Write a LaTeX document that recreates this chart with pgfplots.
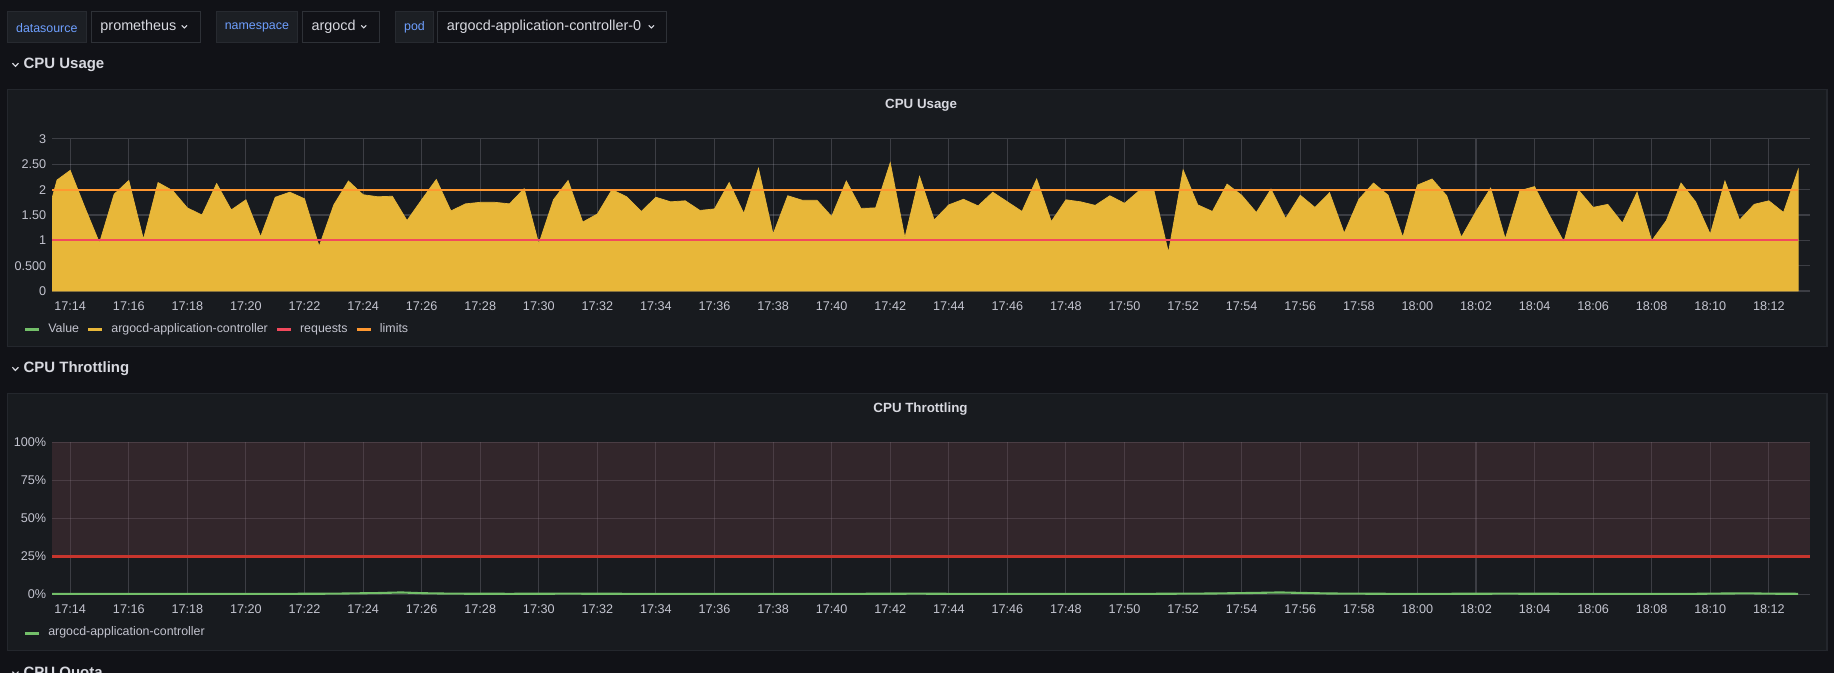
\documentclass[border=0pt]{standalone}
\usepackage{fontspec}
\setmainfont{Liberation Sans}
\usepackage{pgfplots}
\pgfplotsset{compat=1.18}

\definecolor{pagebg}{HTML}{111217}
\definecolor{panelbg}{HTML}{181B1F}
\definecolor{panelline}{HTML}{24272D}
\definecolor{labelbox}{HTML}{1C1F24}
\definecolor{labelline}{HTML}{272A30}
\definecolor{dropline}{HTML}{2E3137}
\definecolor{varblue}{HTML}{6E9FFF}
\definecolor{headtext}{HTML}{D8D9E0}
\definecolor{ticktext}{HTML}{C3C4CF}
\definecolor{gridc}{HTML}{CCCCDC}
\definecolor{cpuyellow}{HTML}{E8B739}
\definecolor{reqred}{HTML}{F2495C}
\definecolor{limorange}{HTML}{FF9830}
\definecolor{valgreen}{HTML}{73BF69}
\definecolor{threshfill}{HTML}{653D44}
\definecolor{threshred}{HTML}{C8352D}

\pgfplotsset{
  grafana/.style={
    scale only axis, width=751.55pt, height=65pt, anchor=south west,
    xmin=-0.62, xmax=59.41,
    axis line style={draw=none},
    major tick length=0pt,
    grid=major,
    major grid style={draw=gridc, draw opacity=0.2, line width=0.45pt},
    xtick={0,2,...,58},
    xticklabels={17:14,17:16,17:18,17:20,17:22,17:24,17:26,17:28,17:30,17:32,
      17:34,17:36,17:38,17:40,17:42,17:44,17:46,17:48,17:50,17:52,
      17:54,17:56,17:58,18:00,18:02,18:04,18:06,18:08,18:10,18:12},
    ticklabel style={font=\fontsize{5.4}{6}\selectfont, text=ticktext, inner sep=0pt},
    xticklabel style={anchor=north, yshift=-4.3pt},
    yticklabel style={anchor=east, xshift=-2.3pt},
    legend columns=-1,
    legend image code/.code={\draw[#1, line width=1.3pt] (0pt,0pt) -- (6pt,0pt);},
    legend style={at={(0,0)}, anchor=west, xshift=-12.4pt, yshift=-16.6pt,
      draw=none, fill=none, inner sep=0pt,
      font=\fontsize{5.3}{6}\selectfont, text=ticktext,
      nodes={inner sep=0pt},
      /tikz/every odd column/.append style={column sep=3.3pt},
      /tikz/every even column/.append style={column sep=3.2pt}},
  }
}

\begin{document}
\begin{tikzpicture}
\clip (0,0) rectangle (784pt,287.5pt);

\begin{scope}[x=0.5pt, y=-0.5pt, shift={(0pt,287.5pt)}]
  \fill[pagebg] (0,0) rectangle (1568,575);
  % variable bar
  \filldraw[fill=labelbox, draw=labelline, line width=0.4pt] (6.1,9.4) rectangle (74.1,36.5);
  \filldraw[fill=pagebg, draw=dropline, line width=0.4pt] (77.9,9.4) rectangle (171.4,36.5);
  \filldraw[fill=labelbox, draw=labelline, line width=0.4pt] (184.7,9.4) rectangle (254.6,36.5);
  \filldraw[fill=pagebg, draw=dropline, line width=0.4pt] (258.4,9.4) rectangle (324.4,36.5);
  \filldraw[fill=labelbox, draw=labelline, line width=0.4pt] (338.2,9.4) rectangle (370.6,36.5);
  \filldraw[fill=pagebg, draw=dropline, line width=0.4pt] (374.4,9.4) rectangle (569.9,36.5);
  \begin{scope}[font=\fontsize{5.3}{6}\selectfont, text=varblue]
    \node at (40,23.6) {datasource};
    \node at (219.6,23.6) {namespace};
    \node at (354.4,23.6) {pod};
  \end{scope}
  \begin{scope}[font=\fontsize{6.15}{7}\selectfont, text=headtext]
    \node[anchor=west, inner sep=0pt] at (85.5,22.8) {prometheus};
    \node[anchor=west, inner sep=0pt] at (266,22.8) {argocd};
    \node[anchor=west, inner sep=0pt] at (381.7,22.8) {argocd-application-controller-0};
  \end{scope}
  \foreach \cx in {157.6,311,556.9}
    \draw[headtext, line width=0.45pt] (\cx-2.2,21.7) -- (\cx,23.9) -- (\cx+2.2,21.7);

  % row headers
  \foreach \ry/\rt in {55.6/CPU Usage, 315.6/CPU Throttling, 575.8/CPU Quota} {
    \draw[overlay, headtext, line width=0.5pt] (10.6,\ry-1.6) -- (13.2,\ry+1.1) -- (15.8,\ry-1.6);
    \node[overlay, anchor=west, inner sep=0pt, text=headtext, font=\fontsize{6.4}{7}\selectfont\bfseries]
      at (19.8,\ry) {\rt};
  }

  % panels
  \filldraw[fill=panelbg, draw=panelline, line width=0.5pt] (6.2,76.4) rectangle (1562,296.4);
  \filldraw[fill=panelbg, draw=panelline, line width=0.5pt] (6.2,336.3) rectangle (1562,555.8);
  \node[text=headtext, font=\fontsize{5.7}{7}\selectfont\bfseries] at (787.5,89.8) {CPU Usage};
  \node[text=headtext, font=\fontsize{5.7}{7}\selectfont\bfseries] at (787,350) {CPU Throttling};
\end{scope}

% CPU Usage
\begin{axis}[grafana, at={(22.25pt,163.1pt)},
  ymin=0, ymax=3,
  ytick={0,0.5,...,3},
  yticklabels={0,0.500,1,1.50,2,2.50,3}]
\addplot[forget plot, fill=cpuyellow, draw=cpuyellow, line width=0.3pt] coordinates {
(-0.62,1.83) (-0.45,2.19) (0,2.38) (0.5,1.65) (1,0.95) (1.5,1.91) (2,2.18) (2.5,1.02)
(3,2.14) (3.5,1.98) (4,1.64) (4.5,1.50) (5,2.12) (5.5,1.60) (6,1.80) (6.5,1.07)
(7,1.85) (7.5,1.95) (8,1.82) (8.5,0.88) (9,1.70) (9.5,2.17) (10,1.90) (10.5,1.86)
(11,1.87) (11.5,1.39) (12,1.80) (12.5,2.20) (13,1.58) (13.5,1.72) (14,1.75) (14.5,1.75)
(15,1.72) (15.5,2.02) (16,0.93) (16.5,1.80) (17,2.18) (17.5,1.36) (18,1.52) (18.5,2.00)
(19,1.86) (19.5,1.57) (20,1.85) (20.5,1.76) (21,1.78) (21.5,1.59) (22,1.62) (22.5,2.14)
(23,1.53) (23.5,2.42) (24,1.12) (24.5,1.88) (25,1.79) (25.5,1.79) (26,1.47) (26.5,2.17)
(27,1.63) (27.5,1.64) (28,2.53) (28.5,1.05) (29,2.26) (29.5,1.40) (30,1.70) (30.5,1.81)
(31,1.68) (31.5,1.95) (32,1.76) (32.5,1.57) (33,2.21) (33.5,1.37) (34,1.80) (34.5,1.76)
(35,1.69) (35.5,1.88) (36,1.73) (36.5,1.98) (37,1.99) (37.5,0.76) (38,2.39) (38.5,1.70)
(39,1.57) (39.5,2.11) (40,1.89) (40.5,1.55) (41,2.01) (41.5,1.43) (42,1.89) (42.5,1.65)
(43,1.94) (43.5,1.14) (44,1.81) (44.5,2.13) (45,1.89) (45.5,1.06) (46,2.09) (46.5,2.21)
(47,1.88) (47.5,1.06) (48,1.57) (48.5,2.03) (49,1.03) (49.5,1.98) (50,2.06) (50.5,1.50)
(51,0.97) (51.5,1.99) (52,1.65) (52.5,1.71) (53,1.34) (53.5,1.95) (54,0.99) (54.5,1.39)
(55,2.13) (55.5,1.76) (56,1.12) (56.5,2.17) (57,1.40) (57.5,1.71) (58,1.78) (58.5,1.55)
(59,2.39)} \closedcycle;
\addplot[forget plot, reqred, line width=0.9pt] coordinates {(-0.62,1) (59,1)};
\addplot[forget plot, limorange, line width=0.9pt] coordinates {(-0.62,2) (59,2)};
\addlegendimage{draw=valgreen}
\addlegendentry{Value}
\addlegendimage{draw=cpuyellow}
\addlegendentry{argocd-application-controller}
\addlegendimage{draw=reqred}
\addlegendentry{requests}
\addlegendimage{draw=limorange}
\addlegendentry{limits}
\end{axis}

% CPU Throttling
\begin{axis}[grafana, at={(22.25pt,33.4pt)},
  ymin=0, ymax=100,
  ytick={0,25,50,75,100},
  yticklabels={0\%,25\%,50\%,75\%,100\%}]
\addplot[forget plot, fill=threshfill, fill opacity=0.35, draw=none]
  coordinates {(-0.62,25) (59.41,25) (59.41,100) (-0.62,100)} -- cycle;
\addplot[forget plot, threshred, line width=1pt] coordinates {(-0.62,25) (59.41,25)};
\addplot[forget plot, valgreen, line width=0.9pt] coordinates {
(-0.62,0.3) (1,0.35) (3,0.4) (5,0.3) (7,0.35) (9,0.5) (10.5,0.9) (11.3,1.3) (12,0.8)
(13,0.5) (15,0.4) (17,0.5) (19,0.4) (21,0.3) (23,0.4) (25,0.3) (27,0.4) (29,0.5)
(31,0.3) (33,0.35) (35,0.4) (37,0.4) (39,0.6) (40.5,1.0) (41.3,1.3) (42,1.0) (43,0.6)
(45,0.4) (47,0.4) (49,0.5) (51,0.4) (53,0.3) (55,0.3) (56.5,0.6) (57.3,0.7) (58,0.5)
(59,0.4)};
\addlegendimage{draw=valgreen}
\addlegendentry{argocd-application-controller}
\end{axis}
\end{tikzpicture}
\end{document}
